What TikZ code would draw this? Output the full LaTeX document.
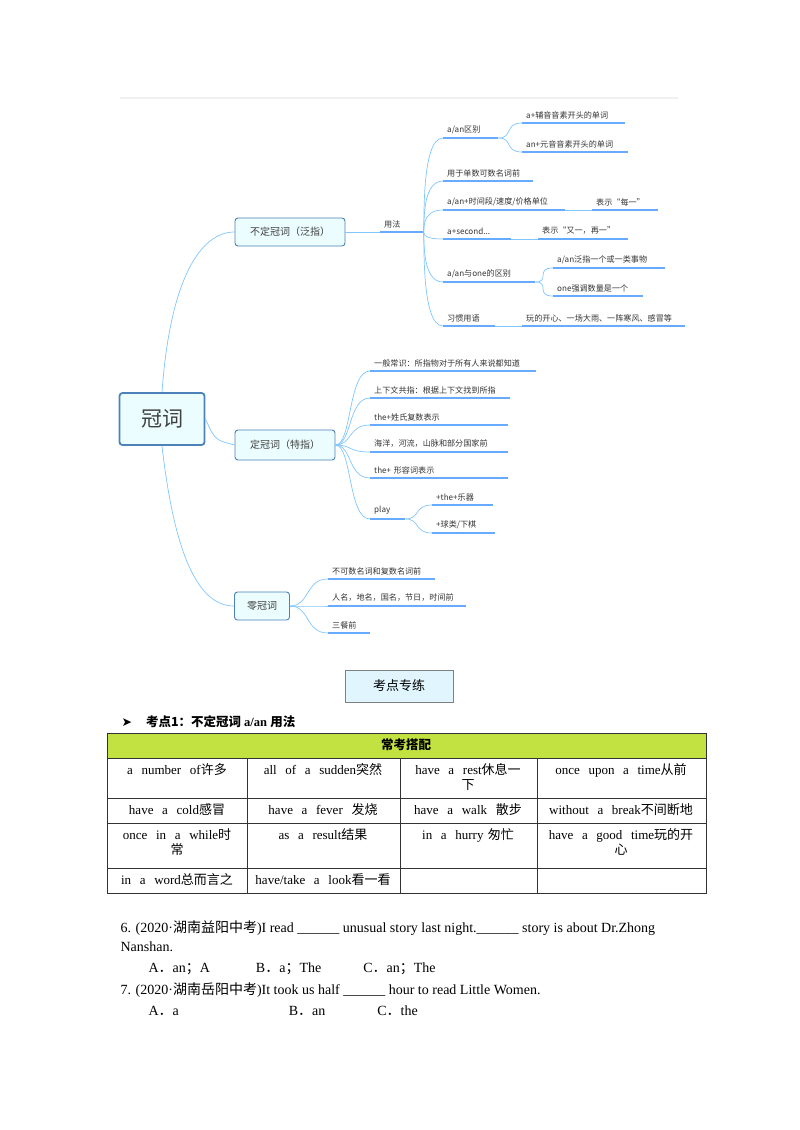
\documentclass[tikz,border=0pt]{standalone}
\usepackage{fontspec}
\setmainfont{Liberation Serif}
\newfontfamily\cjk{Noto Sans CJK SC}
\newfontfamily\dvs{DejaVu Sans}
\newcommand{\zh}[1]{{\cjk #1}}
\begin{document}
\begin{tikzpicture}[x=1pt,y=-1pt,
  br/.style={draw=blue!45!cyan!50!white, line width=0.7pt},
  ul/.style={draw=blue!55!cyan!60, line width=1.4pt},
  box/.style={draw=blue!50!cyan!60!black!70, fill=blue!8!cyan!8, rounded corners=3pt, line width=0.9pt, font=\cjk\fontsize{10}{11}\selectfont, text=black!75},
  leaf/.style={anchor=south west, text width=#1, align=left, inner xsep=4pt, inner ysep=4pt, font=\cjk\fontsize{8.1}{9}\selectfont, text=black!80,
     append after command={(\tikzlastnode.south west) edge[ul] (\tikzlastnode.south east)}},
  lk/.style={br},
  cell/.style={font=\fontsize{13}{15}\selectfont, align=center, text width=160pt, anchor=north},
  q/.style={anchor=west, font=\fontsize{14}{16}\selectfont}]
\useasboundingbox (0,0) rectangle (800,1130);
\draw[black!6, line width=1.5pt] (120,98) -- (678,98);
% root and main branches
\node[box, minimum width=85pt, minimum height=52pt, line width=1.8pt, font=\cjk\fontsize{21}{22}\selectfont] (root) at (162,419) {冠词};
\node[box, minimum width=110pt, minimum height=28pt] (indef) at (290,232) {不定冠词（泛指）};
\node[box, minimum width=100pt, minimum height=30pt] (def) at (285,445) {定冠词（特指）};
\node[box, minimum width=55pt, minimum height=28pt] (zero) at (262,606) {零冠词};
\draw[lk] (root.north) .. controls (170,280) and (200,232) .. (indef.west);
\draw[lk] (root.east) .. controls (215,440) .. (def.west);
\draw[lk] (root.south) .. controls (175,560) and (200,606) .. (zero.west);
% usage
\node[leaf=35pt] (use) at (380,232) {用法};
\draw[lk] (indef.east) -- (use.south west);
\node[leaf=47pt] (ab) at (443,138) {a/an区别};
\node[leaf=95pt] (ab1) at (522,123) {a+辅音音素开头的单词};
\node[leaf=98pt] (ab2) at (522,152) {an+元音音素开头的单词};
\node[leaf=82pt] (sg) at (443,181) {用于单数可数名词前};
\node[leaf=114pt] (tm) at (443,210) {a/an+时间段/速度/价格单位};
\node[leaf=58pt] (tm1) at (592,210) {表示“每一”};
\node[leaf=60pt] (sec) at (443,239) {a+second...};
\node[leaf=82pt] (sec1) at (538,239) {表示“又一，再一”};
\node[leaf=84pt] (one) at (443,282) {a/an与one的区别};
\node[leaf=104pt] (one1) at (553,268) {a/an泛指一个或一类事物};
\node[leaf=82pt] (one2) at (553,296) {one强调数量是一个};
\node[leaf=44pt] (hab) at (443,326) {习惯用语};
\node[leaf=155pt] (hab1) at (522,326) {玩的开心、一场大雨、一阵寒风、感冒等};
\foreach \c in {ab,sg,tm,sec,one,hab}
  \draw[lk] (use.south east) .. controls (425,232) and (420,0 |- \c.south west) .. (\c.south west);
\foreach \p/\c in {ab/ab1,ab/ab2,one/one1,one/one2}
  \draw[lk] (\p.south east) .. controls +(15,0) and +(-18,0) .. (\c.south west);
\draw[lk] (tm.south east) -- (tm1.south west);
\draw[lk] (sec.south east) -- (sec1.south west);
\draw[lk] (hab.south east) -- (hab1.south west);
% definite
\node[leaf=158pt] (d1) at (370,371) {一般常识：所指物对于所有人来说都知道};
\node[leaf=132pt] (d2) at (370,398) {上下文共指：根据上下文找到所指};
\node[leaf=130pt] (d3) at (370,425) {the+姓氏复数表示};
\node[leaf=130pt] (d4) at (370,452) {海洋，河流，山脉和部分国家前};
\node[leaf=130pt] (d5) at (370,478) {the+ 形容词表示};
\node[leaf=27pt] (d6) at (370,519) {play};
\node[leaf=53pt] (p1) at (432,505) {+the+乐器};
\node[leaf=55pt] (p2) at (432,533) {+球类/下棋};
\foreach \c in {d1,d2,d3,d4,d5,d6}
  \draw[lk] (def.east) .. controls (352,445) and (348,0 |- \c.south west) .. (\c.south west);
\foreach \c in {p1,p2}
  \draw[lk] (d6.south east) .. controls +(15,0) and +(-18,0) .. (\c.south west);
% zero
\node[leaf=99pt] (z1) at (328,579) {不可数名词和复数名词前};
\node[leaf=130pt] (z2) at (328,606) {人名，地名，国名，节日，时间前};
\node[leaf=34pt] (z3) at (328,633) {三餐前};
\foreach \c in {z1,z2,z3}
  \draw[lk] (zero.east) .. controls (310,606) and (305,0 |- \c.south west) .. (\c.south west);
% practice
\node[draw=black!50, fill=cyan!12, minimum width=108pt, minimum height=32pt, font=\cjk\fontsize{13}{14}\selectfont] (kd) at (399,686) {考点专练};
\node[anchor=west, font=\fontsize{12.5}{14}\selectfont\bfseries] (h1) at (118,722) {{\dvs ➤}\hspace{14pt}\zh{\bfseries 考点1：不定冠词} a/an \zh{\bfseries 用法}};
% table
\fill[yellow!70!green!80!white] (107,733) rectangle (706,758);
\draw[black!80, line width=0.6pt] (107,733) rectangle (706,893);
\foreach \y in {758,798,823,868} \draw[black!80, line width=0.6pt] (107,\y) -- (706,\y);
\foreach \x in {247,400,537} \draw[black!80, line width=0.6pt] (\x,758) -- (\x,893);
\node[font=\cjk\bfseries\fontsize{12.5}{14}\selectfont] (th) at (406,745) {常考搭配};
\node[cell] (c11) at (177,760) {a\ \ number\ \ of\zh{许多}};
\node[cell] (c12) at (323,760) {all\ \ of\ \ a\ \ sudden\zh{突然}};
\node[cell] (c13) at (468,760) {have\ \ a\ \ rest\zh{休息一}\\\zh{下}};
\node[cell] (c14) at (621,760) {once\ \ upon\ \ a\ \ time\zh{从前}};
\node[cell] (c21) at (177,800) {have\ \ a\ \ cold\zh{感冒}};
\node[cell] (c22) at (323,800) {have\ \ a\ \ fever\ \ \zh{发烧}};
\node[cell] (c23) at (468,800) {have\ \ a\ \ walk\ \ \zh{散步}};
\node[cell] (c24) at (621,800) {without\ \ a\ \ break\zh{不间断地}};
\node[cell] (c31) at (177,825) {once\ \ in\ \ a\ \ while\zh{时}\\\zh{常}};
\node[cell] (c32) at (323,825) {as\ \ a\ \ result\zh{结果}};
\node[cell] (c33) at (468,825) {in\ \ a\ \ hurry\ \zh{匆忙}};
\node[cell] (c34) at (621,825) {have\ \ a\ \ good\ \ time\zh{玩的开}\\\zh{心}};
\node[cell] (c41) at (177,870) {in\ \ a\ \ word\zh{总而言之}};
\node[cell] (c42) at (323,870) {have/take\ \ a\ \ look\zh{看一看}};
% questions
\node[q] (q6) at (117,928) {6. (2020·\zh{湖南益阳中考})I read \_\_\_\_\_\_ unusual story last night.\_\_\_\_\_\_ story is about Dr.Zhong};
\node[q] (q6b) at (117,947) {Nanshan.};
\node[q] (q6o) at (145,969) {A\zh{．}an\zh{；}A\hspace{46pt}B\zh{．}a\zh{；}The\hspace{42pt}C\zh{．}an\zh{；}The};
\node[q] (q7) at (117,990) {7. (2020·\zh{湖南岳阳中考})It took us half \_\_\_\_\_\_ hour to read Little Women.};
\node[q] (q7o) at (145,1011) {A\zh{．}a\hspace{110pt}B\zh{．}an\hspace{52pt}C\zh{．}the};
\end{tikzpicture}
\end{document}
